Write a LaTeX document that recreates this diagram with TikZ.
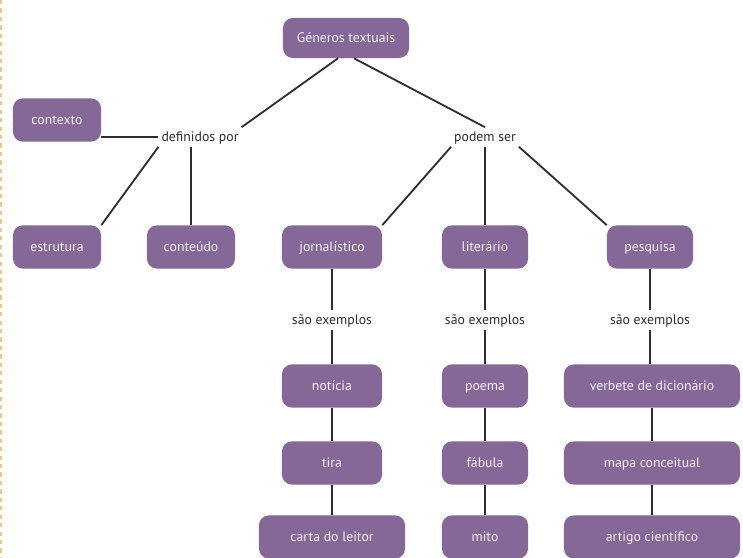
\documentclass[tikz,border=0pt]{standalone}
\usepackage{fontspec}
\setmainfont{PT Sans}
\usepackage{tikz}
\usetikzlibrary{shapes,arrows}

\definecolor{boxpurple}{RGB}{133,104,152}
\definecolor{linkgray}{RGB}{45,45,50}
\definecolor{edgeorange}{RGB}{235,200,140}

\begin{document}
\begin{tikzpicture}[x=0.025cm, y=-0.025cm,
  every node/.style={font=\fontsize{9.8}{12}\selectfont, inner sep=2pt,
                     text height=1.6ex, text depth=0.3ex},
  concept/.style={fill=boxpurple, rounded corners=7pt, text=white!92!boxpurple,
                  minimum height=1.08cm, minimum width=2.2cm},
  link/.style={text=linkgray},
  wire/.style={draw=linkgray, line width=1.3pt}]
  \useasboundingbox (0,0) rectangle (743,558);
  \draw[edgeorange, dashed, line width=0.8pt] (1,0) -- (1,558);

  % Root
  \node[concept, minimum width=3.15cm, minimum height=1cm] (generos) at (346,38) {Géneros textuais};

  % Linking words
  \node[link] (definidos) at (200,137) {definidos por};
  \node[link] (podem) at (485,137) {podem ser};

  % Left branch
  \node[concept] (contexto) at (57,120) {contexto};
  \node[concept] (estrutura) at (57,247) {estrutura};
  \node[concept] (conteudo) at (191,247) {conteúdo};

  % Right branch
  \node[concept, minimum width=2.5cm] (jornal) at (332,247) {jornalístico};
  \node[concept, minimum width=2.15cm] (literario) at (485,247) {literário};
  \node[concept, minimum width=2.15cm] (pesquisa) at (650,247) {pesquisa};

  \node[link] (exjornal) at (332,320) {são exemplos};
  \node[link] (exliterario) at (485,320) {são exemplos};
  \node[link] (expesquisa) at (650,320) {são exemplos};

  % Examples
  \node[concept, minimum width=2.5cm] (noticia) at (332,386) {notícia};
  \node[concept, minimum width=2.5cm] (tira) at (332,463) {tira};
  \node[concept, minimum width=3.65cm] (carta) at (332,537) {carta do leitor};

  \node[concept, minimum width=2.15cm] (poema) at (485,386) {poema};
  \node[concept, minimum width=2.15cm] (fabula) at (485,463) {fábula};
  \node[concept, minimum width=2.15cm] (mito) at (485,537) {mito};

  \node[concept, minimum width=4.4cm] (verbete) at (652,386) {verbete de dicionário};
  \node[concept, minimum width=4.4cm] (mapa) at (652,463) {mapa conceitual};
  \node[concept, minimum width=4.4cm] (artigo) at (652,537) {artigo científico};

  % Lines
  \draw[wire] (generos.south) ++(-8,0) coordinate (gsw) (gsw) -- (definidos.north east);
  \draw[wire] (generos.south) ++(8,0) coordinate (gse) (gse) -- (podem.north);
  \draw[wire] (definidos.west) -- (contexto.east |- definidos.west);
  \draw[wire] (definidos.south west) -- (estrutura.north east);
  \draw[wire] (definidos.south -| conteudo.north) -- (conteudo.north);
  \draw[wire] (podem.south west) -- (jornal.north east);
  \draw[wire] (podem.south) -- (literario.north);
  \draw[wire] (podem.south east) -- (pesquisa.north west);

  \draw[wire] (jornal) -- (exjornal);
  \draw[wire] (exjornal) -- (noticia);
  \draw[wire] (noticia) -- (tira);
  \draw[wire] (tira) -- (carta);

  \draw[wire] (literario) -- (exliterario);
  \draw[wire] (exliterario) -- (poema);
  \draw[wire] (poema) -- (fabula);
  \draw[wire] (fabula) -- (mito);

  \draw[wire] (pesquisa.south) -- (pesquisa.south |- expesquisa.north);
  \draw[wire] (pesquisa.south |- expesquisa.south) -- (pesquisa.south |- verbete.north);
  \draw[wire] (verbete) -- (mapa);
  \draw[wire] (mapa) -- (artigo);
\end{tikzpicture}
\end{document}
